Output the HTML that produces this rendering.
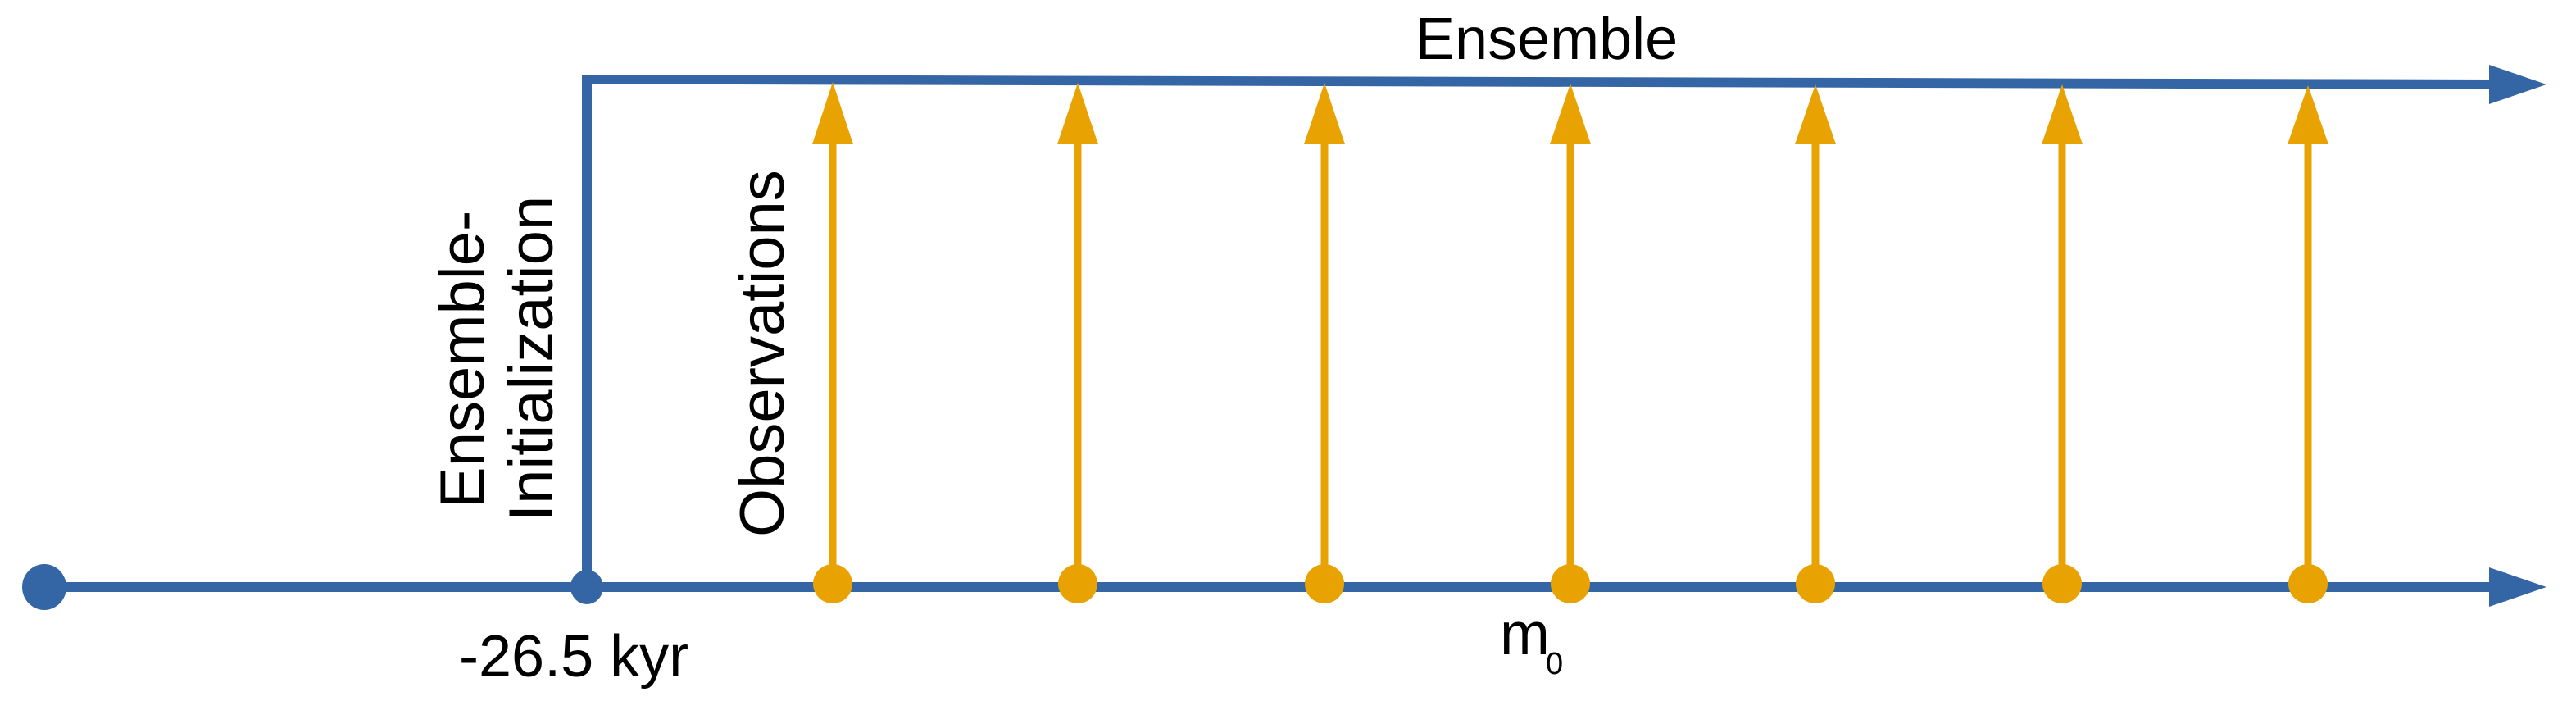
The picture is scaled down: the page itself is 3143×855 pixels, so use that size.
<!DOCTYPE html>
<html><head><meta charset="utf-8"><style>
html,body{margin:0;padding:0;background:#fff;width:3143px;height:855px;overflow:hidden}
svg{display:block}
text{font-family:"Liberation Sans",Arial,sans-serif;fill:#000}
</style></head><body>
<svg width="3143" height="855" viewBox="0 0 3143 855" xmlns="http://www.w3.org/2000/svg">
<line x1="54" y1="716" x2="3045" y2="716" stroke="#3465a4" stroke-width="12"/>
<polygon points="3037,692 3107,716 3037,740" fill="#3465a4"/>
<ellipse cx="54" cy="716" rx="27" ry="28" fill="#3465a4"/>
<ellipse cx="716" cy="716" rx="20" ry="21" fill="#3465a4"/>
<line x1="716" y1="716" x2="716" y2="91" stroke="#3465a4" stroke-width="12"/>
<polygon points="710,91 3045,97 3045,109 722,102.5 722,716 710,716" fill="#3465a4"/>
<polygon points="3037,79 3107,103 3037,127" fill="#3465a4"/>
<g fill="#e8a202" stroke="none">
<g><rect x="1011.5" y="170" width="9" height="546"/><polygon points="1016,100 1041,176 991,176"/><circle cx="1016" cy="712" r="24"/></g>
<g transform="translate(299,0)"><rect x="1011.5" y="170" width="9" height="546"/><polygon points="1016,101 1041,176 991,176"/><circle cx="1016" cy="712" r="24"/></g>
<g transform="translate(600,0)"><rect x="1011.5" y="170" width="9" height="546"/><polygon points="1016,101 1041,176 991,176"/><circle cx="1016" cy="712" r="24"/></g>
<g transform="translate(900,0)"><rect x="1011.5" y="170" width="9" height="546"/><polygon points="1016,102 1041,176 991,176"/><circle cx="1016" cy="712" r="24"/></g>
<g transform="translate(1199,0)"><rect x="1011.5" y="170" width="9" height="546"/><polygon points="1016,103 1041,176 991,176"/><circle cx="1016" cy="712" r="24"/></g>
<g transform="translate(1500,0)"><rect x="1011.5" y="170" width="9" height="546"/><polygon points="1016,103 1041,176 991,176"/><circle cx="1016" cy="712" r="24"/></g>
<g transform="translate(1800,0)"><rect x="1011.5" y="170" width="9" height="546"/><polygon points="1016,104 1041,176 991,176"/><circle cx="1016" cy="712" r="24"/></g>
</g>
<text x="1727" y="72" font-size="72">Ensemble</text>
<text x="560" y="825" font-size="72">-26.5 kyr</text>
<text x="1830" y="798" font-size="73">m</text>
<text x="1886" y="822" font-size="38">0</text>
<text transform="translate(590,620) rotate(-90)" font-size="76">Ensemble-</text>
<text transform="translate(674,636) rotate(-90)" font-size="76">Initialization</text>
<text transform="translate(956,655) rotate(-90)" font-size="76">Observations</text>
</svg>
</body></html>
